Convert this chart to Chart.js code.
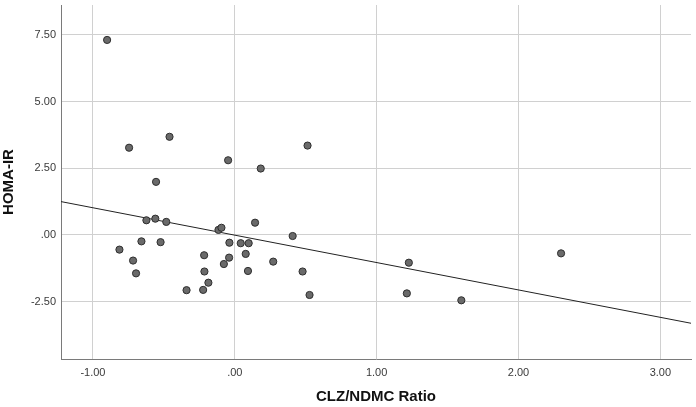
<!DOCTYPE html>
<html>
<head>
<meta charset="utf-8">
<script src="https://cdn.jsdelivr.net/npm/chart.js@4"></script>
<style>
html,body{margin:0;padding:0;background:#fff;}
#wrap{width:696px;height:407px;}
</style>
</head>
<body>
<div id="wrap"><canvas id="c" width="696" height="407"></canvas></div>
<script>
// Scatter data: CLZ/NDMC ratio (x) vs HOMA-IR (y)
const ratioX = [-0.90,-0.745,-0.46,-0.555,-0.047,0.183,0.513,
  -0.623,-0.56,-0.483,-0.813,-0.658,-0.523,-0.717,-0.696,-0.34,-0.223,-0.216,-0.214,-0.186,
  -0.115,-0.094,-0.077,-0.04,-0.038,0.042,0.098,0.077,0.093,0.143,0.271,0.408,0.478,0.527,
  1.227,1.213,1.597,2.30];
const homaY = [7.31,3.27,3.68,1.99,2.80,2.49,3.35,
  0.55,0.61,0.49,-0.55,-0.24,-0.27,-0.96,-1.44,-2.07,-2.06,-0.76,-1.37,-1.79,
  0.19,0.27,-1.09,-0.85,-0.29,-0.31,-0.31,-0.71,-1.35,0.46,-1.00,-0.04,-1.37,-2.25,
  -1.04,-2.19,-2.45,-0.69];
// Fit line endpoints
const fitX = [-1.225, 3.216];
const fitY = [1.25, -3.31];
// Axis ticks
const xTicks = [-1, 0, 1, 2, 3];
const yTicks = [-2.5, 0, 2.5, 5, 7.5];
const xRange = [-1.225, 3.216];
const yRange = [-4.65, 8.62];

function fmt(v){
  const s = Math.abs(v).toFixed(2).replace(/^0/, '');
  return (v < 0 ? '-' : '') + s;
}

const points = ratioX.map((x,i)=>({x:x, y:homaY[i]}));
const fitPts = fitX.map((x,i)=>({x:x, y:fitY[i]}));

function noPad(s){ s.paddingTop = 0; s.paddingBottom = 0; s.paddingLeft = 0; s.paddingRight = 0; }

new Chart(document.getElementById('c'), {
  type: 'scatter',
  data: {
    datasets: [
      {
        type: 'line',
        data: fitPts,
        borderColor: '#222',
        borderWidth: 1,
        pointRadius: 0,
        fill: false,
        order: 2
      },
      {
        data: points,
        backgroundColor: '#6a6a6a',
        borderColor: '#2e2e2e',
        borderWidth: 1,
        pointRadius: 3.6,
        order: 1
      }
    ]
  },
  options: {
    responsive: false,
    animation: false,
    devicePixelRatio: 1,
    layout: { padding: { top: 5, right: 1, left: 0, bottom: 0 } },
    plugins: { legend: { display: false }, tooltip: { enabled: false } },
    scales: {
      x: {
        type: 'linear',
        min: xRange[0], max: xRange[1],
        afterBuildTicks: s => { s.ticks = xTicks.map(v=>({value:v})); },
        afterFit: s => { s.height = 48; noPad(s); },
        grid: { color: '#d0d0d0', lineWidth: 1, drawTicks: false },
        border: { color: '#7a7a7a', width: 1 },
        ticks: { color: '#3a3a3a', font: { family: 'Liberation Sans', size: 11 }, padding: 7,
                 callback: v => fmt(v), maxRotation: 0, autoSkip: false },
        title: { display: true, text: 'CLZ/NDMC Ratio', color: '#111',
                 font: { family: 'Liberation Sans', size: 15, weight: 'bold' },
                 padding: { top: 0, bottom: 1 } }
      },
      y: {
        type: 'linear',
        min: yRange[0], max: yRange[1],
        afterBuildTicks: s => { s.ticks = yTicks.map(v=>({value:v})); },
        afterFit: s => { s.width = 61; noPad(s); },
        grid: { color: '#d0d0d0', lineWidth: 1, drawTicks: false },
        border: { color: '#7a7a7a', width: 1 },
        ticks: { color: '#3a3a3a', font: { family: 'Liberation Sans', size: 11 }, padding: 5,
                 callback: v => fmt(v), autoSkip: false },
        title: { display: true, text: 'HOMA-IR', color: '#111',
                 font: { family: 'Liberation Sans', size: 15, weight: 'bold' },
                 padding: { top: 0, bottom: 0 } }
      }
    }
  }
});
</script>
</body>
</html>
